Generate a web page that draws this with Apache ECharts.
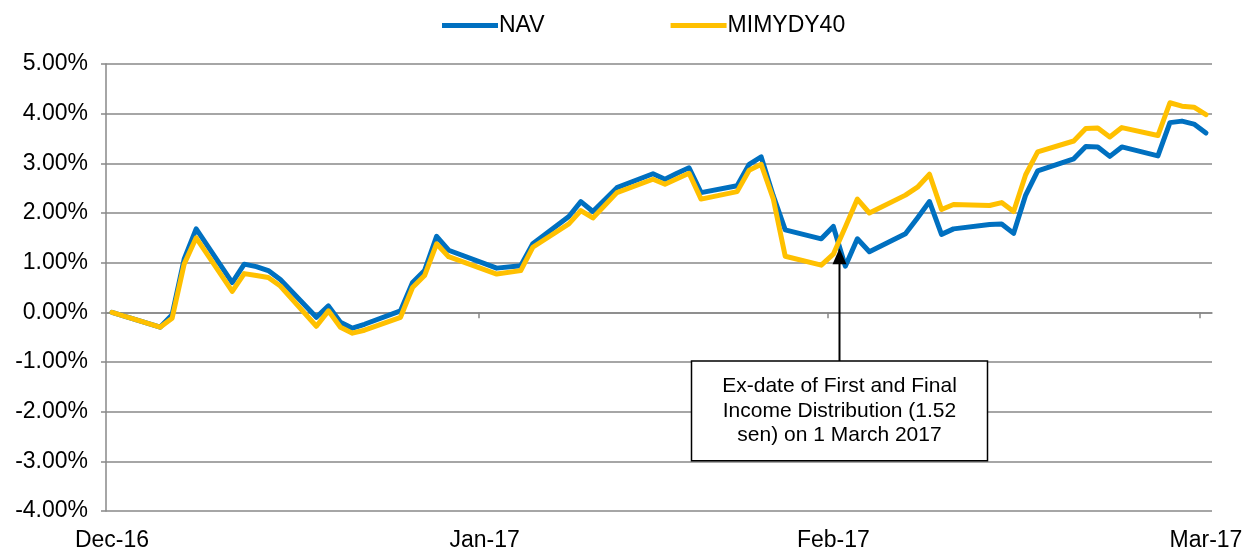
<!DOCTYPE html>
<html><head><meta charset="utf-8">
<script src="https://cdn.jsdelivr.net/npm/echarts@6/dist/echarts.min.js"></script>
<style>html,body{margin:0;padding:0;background:#fff}#c{width:1255px;height:553px}</style>
</head><body><div id="c"></div>
<script>
// ---------- data ----------
const seriesNames = ['NAV', 'MIMYDY40'];
const dates = [
  '2016-12-30','2017-01-03','2017-01-04','2017-01-05','2017-01-06',
  '2017-01-09','2017-01-10','2017-01-11','2017-01-12','2017-01-13',
  '2017-01-16','2017-01-17','2017-01-18','2017-01-19','2017-01-20',
  '2017-01-23','2017-01-24','2017-01-25','2017-01-26','2017-01-27',
  '2017-01-31','2017-02-02','2017-02-03',
  '2017-02-06','2017-02-07','2017-02-08','2017-02-10',
  '2017-02-13','2017-02-14','2017-02-15','2017-02-16','2017-02-17',
  '2017-02-20','2017-02-21','2017-02-22','2017-02-23','2017-02-24',
  '2017-02-27','2017-02-28','2017-03-01','2017-03-02','2017-03-03',
  '2017-03-06','2017-03-07','2017-03-08','2017-03-09','2017-03-10',
  '2017-03-13','2017-03-14','2017-03-15','2017-03-16','2017-03-17',
  '2017-03-20','2017-03-21','2017-03-22','2017-03-23','2017-03-24',
  '2017-03-27','2017-03-28','2017-03-29','2017-03-30','2017-03-31'
];
const navValues = [
  0.00,-0.30,-0.05,1.07,1.68,
  0.60,0.97,0.92,0.84,0.66,
  -0.10,0.13,-0.20,-0.32,-0.24,
  0.03,0.60,0.84,1.53,1.25,
  0.89,0.94,1.38,
  1.93,2.23,2.03,2.51,
  2.79,2.68,2.80,2.91,2.41,
  2.55,2.98,3.13,2.35,1.66,
  1.48,1.73,0.93,1.48,1.22,
  1.58,1.90,2.23,1.57,1.68,
  1.77,1.78,1.59,2.36,2.85,
  3.09,3.34,3.33,3.14,3.33,
  3.15,3.82,3.85,3.79,3.61
];
const indexValues = [
  0.00,-0.30,-0.12,0.97,1.50,
  0.42,0.78,0.74,0.70,0.53,
  -0.28,0.03,-0.30,-0.42,-0.36,
  -0.10,0.50,0.74,1.38,1.12,
  0.77,0.84,1.31,
  1.78,2.05,1.90,2.41,
  2.68,2.58,2.69,2.80,2.28,
  2.43,2.86,2.98,2.29,1.13,
  0.95,1.17,1.72,2.28,2.00,
  2.36,2.52,2.78,2.07,2.17,
  2.15,2.21,2.03,2.77,3.23,
  3.45,3.70,3.71,3.53,3.72,
  3.56,4.22,4.15,4.13,3.98
];
const yMin = -4, yMax = 5, yStep = 1;
const axisStart = '2016-12-29 12:00', axisEnd = '2017-03-31 12:00';
const labelDates = ['2016-12-30','2017-01-30','2017-02-28','2017-03-31'];
const tickDates = ['2017-01-29 12:00','2017-02-27 12:00','2017-03-30 12:00'];
const monthNames = ['Jan','Feb','Mar','Apr','May','Jun','Jul','Aug','Sep','Oct','Nov','Dec'];
const annotationLines = ['Ex-date of First and Final','Income Distribution (1.52','sen) on 1 March 2017'];
const annotationDate = '2017-02-28 12:00';
const arrowTipValue = 1.29, boxTopValue = -0.98, boxBottomValue = -2.99;

// ---------- helpers ----------
function t(s){
  const parts = s.split(' ');
  const [Y,M,D] = parts[0].split('-').map(Number);
  let h = 0, m = 0;
  if (parts[1]) { [h, m] = parts[1].split(':').map(Number); }
  return new Date(Y, M - 1, D, h, m).getTime();
}
const FONT = 'Liberation Sans, Arial, Helvetica, sans-serif';
const GRID_COLOR = '#888888';
const BLUE = '#0070C0', GOLD = '#FFC000';

const chart = echarts.init(document.getElementById('c'), null, {renderer: 'canvas'});
const xMin = t(axisStart), xMax = t(axisEnd);

const option = {
  animation: false,
  backgroundColor: '#ffffff',
  textStyle: {fontFamily: FONT},
  legend: {
    data: seriesNames,
    left: 437, top: 9,
    icon: 'rect', itemWidth: 56, itemHeight: 5, itemGap: 126,
    textStyle: {fontFamily: FONT, fontSize: 23, color: '#000', padding: [0,0,0,-4]}
  },
  grid: {left: 106, right: 43, top: 64, bottom: 42, containLabel: false},
  xAxis: [
    {
      type: 'value', min: xMin, max: xMax, position: 'bottom',
      axisLine: {show: true, onZero: true, lineStyle: {color: GRID_COLOR, width: 1.5}},
      axisTick: {show: true, length: 6, inside: false, customValues: tickDates.map(t), lineStyle: {color: GRID_COLOR, width: 1.5}},
      axisLabel: {show: false},
      splitLine: {show: false}
    },
    {
      type: 'value', min: xMin, max: xMax, position: 'bottom',
      axisLine: {show: false, onZero: false},
      axisTick: {show: false},
      splitLine: {show: false},
      axisLabel: {
        show: true, margin: 18, fontSize: 23, color: '#000', fontFamily: FONT,
        customValues: labelDates.map(t),
        showMinLabel: true, showMaxLabel: true, hideOverlap: false,
        formatter: function (v) {
          const d = new Date(v);
          return monthNames[d.getMonth()] + '-' + String(d.getFullYear()).slice(2);
        }
      }
    }
  ],
  yAxis: {
    type: 'value', min: yMin, max: yMax, interval: yStep,
    axisLine: {show: true, lineStyle: {color: GRID_COLOR, width: 1.5}},
    axisTick: {show: true, length: 5, lineStyle: {color: GRID_COLOR, width: 1.5}},
    axisLabel: {
      margin: 18, fontSize: 23, color: '#000', fontFamily: FONT,
      formatter: function (v) { return v.toFixed(2) + '%'; }
    },
    splitLine: {show: true, lineStyle: {color: GRID_COLOR, width: 1.5}}
  },
  series: [
    {
      name: seriesNames[0], type: 'line', xAxisIndex: 0, yAxisIndex: 0,
      data: dates.map((d, i) => [t(d), navValues[i]]),
      showSymbol: false, symbol: 'none', color: BLUE,
      lineStyle: {color: BLUE, width: 5, cap: 'round', join: 'round'},
      z: 3
    },
    {
      name: seriesNames[1], type: 'line', xAxisIndex: 0, yAxisIndex: 0,
      data: dates.map((d, i) => [t(d), indexValues[i]]),
      showSymbol: false, symbol: 'none', color: GOLD,
      lineStyle: {color: GOLD, width: 5, cap: 'round', join: 'round'},
      z: 4
    }
  ]
};
chart.setOption(option);

// ---------- annotation (positioned through the chart's own scales) ----------
const at = t(annotationDate);
const tipPx = chart.convertToPixel({xAxisIndex: 0, yAxisIndex: 0}, [at, arrowTipValue]);
const boxTopPx = chart.convertToPixel({xAxisIndex: 0, yAxisIndex: 0}, [at, boxTopValue]);
const boxBotPx = chart.convertToPixel({xAxisIndex: 0, yAxisIndex: 0}, [at, boxBottomValue]);
const cx = Math.round(tipPx[0]) + 0.5;
const boxW = 296;
chart.setOption({
  graphic: [
    {type: 'line', z: 100, shape: {x1: cx, y1: boxTopPx[1], x2: cx, y2: tipPx[1] + 12}, style: {stroke: '#000', lineWidth: 2}},
    {type: 'polygon', z: 100, shape: {points: [[cx, tipPx[1]], [cx - 7, tipPx[1] + 16], [cx + 7, tipPx[1] + 16]]}, style: {fill: '#000'}},
    {type: 'rect', z: 100, shape: {x: cx - boxW / 2, y: boxTopPx[1], width: boxW, height: boxBotPx[1] - boxTopPx[1]}, style: {fill: '#fff', stroke: '#000', lineWidth: 1.5}},
    {type: 'text', z: 101, x: cx, y: (boxTopPx[1] + boxBotPx[1]) / 2,
      style: {text: annotationLines.join('\n'), fill: '#000', font: '21px ' + FONT, align: 'center', verticalAlign: 'middle', lineHeight: 24.5}}
  ]
});
</script>
</body></html>
